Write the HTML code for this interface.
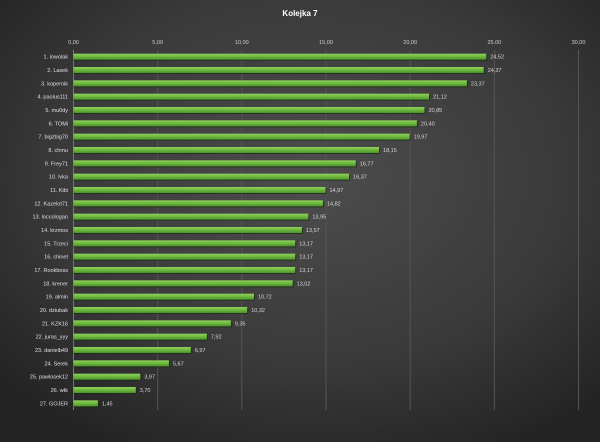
<!DOCTYPE html>
<html><head><meta charset="utf-8"><style>
body{margin:0;width:600px;height:442px;overflow:hidden;}
svg{display:block;font-family:"Liberation Sans",sans-serif;}
</style></head><body>
<svg id="c" width="600" height="442">
<defs>
<radialGradient id="bg" cx="52%" cy="40%" r="70%">
<stop offset="0" stop-color="#4d4d4d"/><stop offset="0.6" stop-color="#3a3a3a"/><stop offset="1" stop-color="#232323"/>
</radialGradient>
<linearGradient id="bar" x1="0" y1="0" x2="0" y2="1">
<stop offset="0" stop-color="#8fd15c"/><stop offset="0.5" stop-color="#6db83e"/><stop offset="1" stop-color="#4e922a"/>
</linearGradient>
</defs>
<rect width="600" height="442" fill="url(#bg)"/>
<text x="300" y="16" text-anchor="middle" fill="#ffffff" font-size="8" font-weight="bold">Kolejka  7</text>
<g id="grid"></g><g id="bars"></g>
</svg>
<script>
const categories=["1. lowolak","2. Lasek","3. kopernik","4. paolus111","5. mu0dy","6. TOMi","7. bigzbig70","8. chmu","9. Frey71","10. lvka","11. Kibi","12. Kazelot71","13. loccologan","14. krzmos","15. Trzeci","16. chinet","17. Rookboss","18. krener","19. almin","20. dziubak","21. KZK16","22. juras_yyy","23. danielb49","24. Serek","25. pawlosek12","26. wtk","27. GOJER"];
const values=[24.52,24.37,23.37,21.12,20.85,20.40,19.97,18.15,16.77,16.37,14.97,14.82,13.95,13.57,13.17,13.17,13.17,13.02,10.72,10.32,9.35,7.92,6.97,5.67,3.97,3.70,1.45];
const ticks=[0,5,10,15,20,25,30];
const NS="http://www.w3.org/2000/svg";
const x0=73.5,x1=578.5,xmax=30,yTop=50,yBot=410;
const sx=v=>x0+(v/xmax)*(x1-x0);
const step=(yBot-yTop)/categories.length;
const sy=i=>yTop+step*(i+0.5);
const fmt=v=>v.toFixed(2).replace('.',',');
function mk(t,a,p){const e=document.createElementNS(NS,t);for(const k in a)e.setAttribute(k,a[k]);p.appendChild(e);return e;}
const g=document.getElementById('grid'),b=document.getElementById('bars');
ticks.forEach(t=>{
 const l=mk('line',{x1:sx(t),x2:sx(t),y1:yTop,y2:yBot,stroke:t===0?'#777':'#555','stroke-width':1},g);
 
 
 const tx=mk('text',{x:sx(t),y:44,'text-anchor':'middle',fill:'#cfcfcf','font-size':5.5},g);
 tx.textContent=fmt(t);
 
 
});
categories.forEach((c,i)=>{
 const y=sy(i);
 const sh=mk('rect',{x:x0,y:y-2,width:sx(values[i])-x0+1,height:6,fill:'#1a2a12',opacity:0.7},b);
 
 
 const r=mk('rect',{x:x0,y:y-3,width:sx(values[i])-x0,height:6,fill:'url(#bar)'},b);
 
 
 const lb=mk('text',{x:68,y:y+2,'text-anchor':'end',fill:'#e0e0e0','font-size':5.5},b);
 lb.textContent=c;
 
 
 const vl=mk('text',{x:sx(values[i])+4,y:y+2,fill:'#d8d8d8','font-size':5.5},b);
 vl.textContent=fmt(values[i]);
 
 
});
</script>
</body></html>
